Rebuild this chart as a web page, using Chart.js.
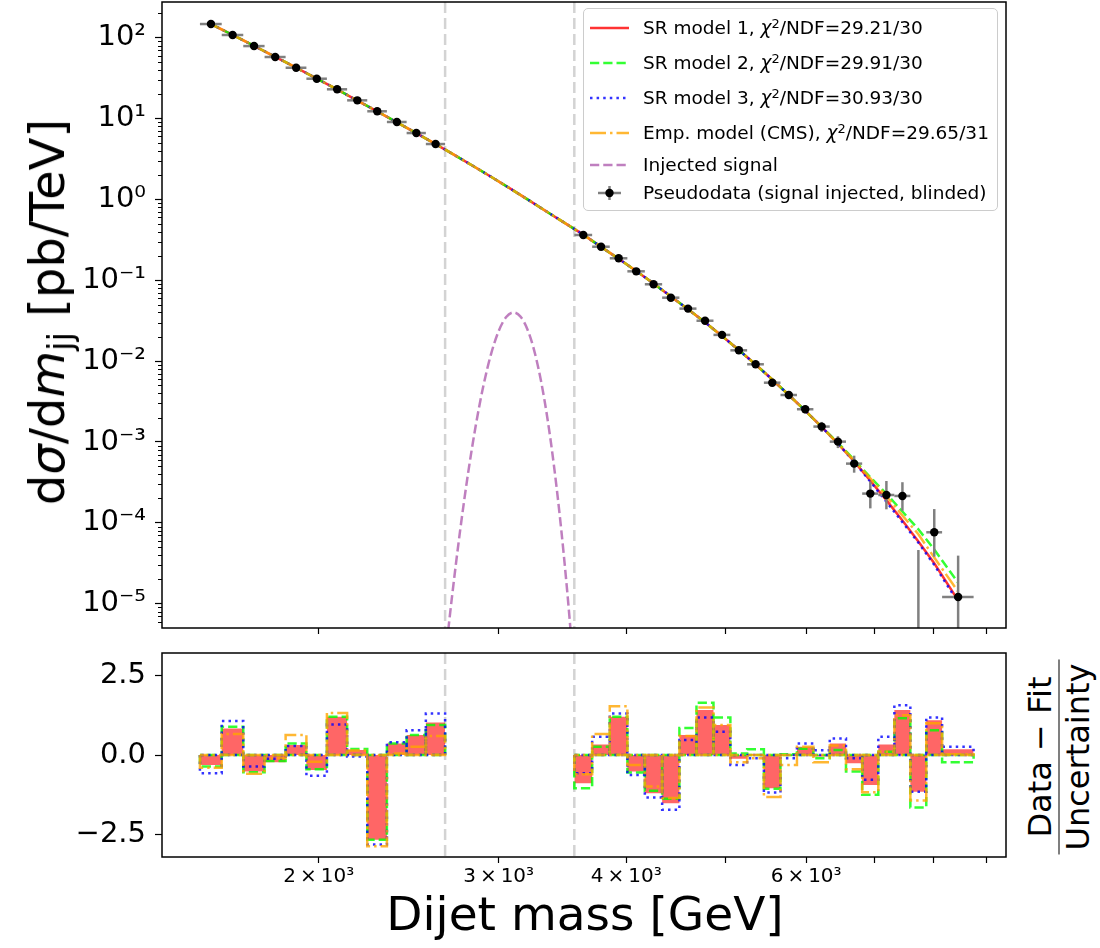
<!DOCTYPE html>
<html><head><meta charset="utf-8">
<script src="https://cdn.jsdelivr.net/npm/chart.js@4.4.1/dist/chart.umd.min.js"></script>
<style>
body{margin:0;background:#fff;}
#wrap{position:relative;width:1100px;height:948px;overflow:hidden;font-family:'DejaVu Sans',sans-serif;color:#000;background:#fff}
canvas{position:absolute;left:0}
#c1{top:0}
#c2{top:645px}
.lg{position:absolute;left:583px;top:8px;width:413px;height:201px;border:1.3px solid #cccccc;border-radius:5px;background:rgba(255,255,255,0.85);font-size:18.5px}
.row{position:absolute;left:0;height:24px;line-height:24px;white-space:nowrap}
.row svg{position:absolute;left:6px;top:2px}
.row span{position:absolute;left:59px;top:0}
.row sup{font-size:70%;vertical-align:0.45em;line-height:0}
.t{position:absolute;white-space:nowrap;transform:translate(-50%,-50%)}
</style></head>
<body><div id="wrap">
<canvas id="c1" width="1010" height="640"></canvas>
<canvas id="c2" width="1010" height="303"></canvas>

<div class="lg">
 <div class="row" style="top:7px"><svg width="40" height="20"><line x1="0" y1="10" x2="39" y2="10" stroke="rgba(255,0,0,0.8)" stroke-width="2.5"/></svg><span>SR model 1, <i>χ</i><sup>2</sup>/NDF=29.21/30</span></div>
 <div class="row" style="top:42px"><svg width="40" height="20"><line x1="0" y1="10" x2="39" y2="10" stroke="rgba(0,255,0,0.8)" stroke-width="2.5" stroke-dasharray="9.25 4"/></svg><span>SR model 2, <i>χ</i><sup>2</sup>/NDF=29.91/30</span></div>
 <div class="row" style="top:77px"><svg width="40" height="20"><line x1="0" y1="10" x2="39" y2="10" stroke="rgba(0,0,255,0.8)" stroke-width="2.5" stroke-dasharray="2.5 4.1"/></svg><span>SR model 3, <i>χ</i><sup>2</sup>/NDF=30.93/30</span></div>
 <div class="row" style="top:112px"><svg width="40" height="20"><line x1="0" y1="10" x2="39" y2="10" stroke="rgba(255,165,0,0.8)" stroke-width="2.5" stroke-dasharray="16 4 2.5 4"/></svg><span>Emp. model (CMS), <i>χ</i><sup>2</sup>/NDF=29.65/31</span></div>
 <div class="row" style="top:144px"><svg width="40" height="20"><line x1="0" y1="10" x2="39" y2="10" stroke="rgba(128,0,128,0.5)" stroke-width="2.5" stroke-dasharray="9.25 4"/></svg><span>Injected signal</span></div>
 <div class="row" style="top:172px"><svg width="40" height="20"><line x1="8" y1="10" x2="31" y2="10" stroke="#808080" stroke-width="2.5"/><line x1="19.5" y1="3" x2="19.5" y2="17" stroke="#808080" stroke-width="2.5"/><circle cx="19.5" cy="10" r="4.2" fill="#000"/></svg><span>Pseudodata (signal injected, blinded)</span></div>
</div>

<div class="t" style="left:47px;top:312px;transform:translate(-50%,-50%) rotate(-90deg);font-size:48px">d<i>σ</i>/d<i>m</i><sub style="font-size:70%;vertical-align:-0.25em;line-height:0">jj</sub> [pb/TeV]</div>
<div class="t" style="left:585px;top:913px;font-size:47px">Dijet mass [GeV]</div>
<div class="t" style="left:1059px;top:757px;transform:translate(-50%,-50%) rotate(-90deg);font-size:32px;text-align:center;line-height:37px">
  <div style="padding:0 4px">Data − Fit</div>
  <div style="border-top:1.6px solid #000;padding:0 4px">Uncertainty</div>
</div>
</div>

<script>
const FONT = "'DejaVu Sans', sans-serif";

// ---------- binning (GeV) ----------
const edgesLeft  = [1530,1607,1687,1770,1856,1945,2037,2132,2231,2332,2438,2546,2659];
const edgesBlind = [2659,2775,2895,3019,3147,3279,3416,3558];
const edgesRight = [3558,3704,3854,4010,4171,4337,4509,4686,4869,5058,5253,5455,5663,5877,6099,6328,6564,6808,7060,7320,7589,7866,8152,8752];
const blindEdges = [2659, 3558];

// ---------- pseudodata [pb/TeV] ----------
const dataLeft   = [147.6,108,78.8,57.7,42.5,31.1,23.0,16.8,12.3,9.07,6.62,4.84];
const errLeft    = [0.08,0.06,0.05,0.04,0.035,0.03,0.025,0.02,0.017,0.015,0.013,0.011];
const dataRight  = [0.363,0.260,0.187,0.129,0.0892,0.0609,0.0446,0.0316,0.0211,0.0136,0.00914,0.00541,0.00381,0.00254,0.00155,0.00101,0.00054,0.00023,0.000221,0.000215,0,7.64e-5,1.21e-5];
const errUpRight = [0.0036,0.0031,0.0026,0.0022,0.0018,0.0015,0.00125,0.00104,0.00084,0.00067,0.00055,0.00042,0.00034,0.00028,0.00022,0.00017,0.000137,0.000093,0.000108,0.000103,4.61e-5,7.16e-5,2.72e-5];
const errDnRight = [0.0036,0.0031,0.0026,0.0022,0.0018,0.0015,0.00125,0.00104,0.00084,0.00067,0.00055,0.00042,0.00034,0.00028,0.00022,0.00017,0.000123,0.000079,0.000074,0.000074,0,3.83e-5,1.21e-5];

// ---------- fit curves at bin centres (left, blinded, right) ----------
const model1 = [147.6,108.1,79.3,58.1,42.6,31.2,22.9,16.7,12.3,8.99,6.59,4.84, 3.53,2.57,1.866,1.349,0.973,0.700,0.506, 0.3664,0.2588,0.1841,0.1303,0.0912,0.0632,0.0438,0.0302,0.0204,0.01371,0.00908,0.00592,0.00381,0.00244,0.00154,0.000955,0.000575,0.000331,0.000191,0.000107,5.89e-5,3.16e-5,1.10e-5];
const model2 = [147.6,108.1,79.3,58.1,42.6,31.2,22.9,16.7,12.3,8.99,6.59,4.84, 3.53,2.57,1.866,1.349,0.973,0.700,0.506, 0.3664,0.2588,0.1841,0.1303,0.0912,0.0632,0.0438,0.0302,0.0204,0.01371,0.00908,0.00592,0.00381,0.00244,0.00154,0.000977,0.000603,0.000367,0.000229,0.000138,8.32e-5,4.68e-5,1.82e-5];
const model3 = [147.6,108.1,79.3,58.1,42.6,31.2,22.9,16.7,12.3,8.99,6.59,4.84, 3.53,2.57,1.866,1.349,0.973,0.700,0.506, 0.3664,0.2588,0.1841,0.1303,0.0912,0.0632,0.0438,0.0302,0.0204,0.01371,0.00908,0.00592,0.00381,0.00244,0.00154,0.000955,0.000569,0.000324,0.000182,0.000102,5.69e-5,3.02e-5,1.04e-5];
const model4 = [147.6,108.1,79.3,58.1,42.6,31.2,22.9,16.7,12.3,8.99,6.59,4.84, 3.53,2.57,1.866,1.349,0.973,0.700,0.506, 0.3664,0.2588,0.1841,0.1303,0.0912,0.0632,0.0438,0.0302,0.0204,0.01371,0.00908,0.00592,0.00381,0.00244,0.00154,0.000955,0.000589,0.000355,0.000214,0.000123,7.24e-5,3.72e-5,1.41e-5];

// ---------- injected signal ----------
const sigMass = [2660,2700,2750,2800,2850,2900,2950,3000,3050,3100,3150,3200,3250,3300,3350,3400,3450,3500,3550];
const sigVal  = [2.19e-6,1.19e-5,7.88e-5,4.06e-4,1.63e-3,5.10e-3,0.0124,0.0235,0.0348,0.0400,0.0358,0.0250,0.0136,5.75e-3,1.90e-3,4.86e-4,9.72e-5,1.51e-5,1.83e-6];

// ---------- pulls (Data - Fit)/Uncertainty ----------
const pull1L = [-0.31,0.83,-0.52,-0.23,0.31,-0.47,1.20,0.16,-2.66,0.36,0.63,1.02];
const pull2L = [-0.36,0.89,-0.54,-0.19,0.36,-0.45,1.20,0.19,-2.66,0.36,0.63,0.94];
const pull3L = [-0.57,1.07,-0.36,-0.12,0.28,-0.65,0.96,-0.05,-2.81,0.40,0.78,1.30];
const pull4L = [-0.40,0.66,-0.59,-0.10,0.63,-0.21,1.32,0.14,-2.86,0.05,0.26,0.60];
const pull1R = [-0.885,0.33,1.20,-0.52,-1.20,-1.51,0.63,1.41,0.94,-0.12,0.02,-1.04,-0.02,0.26,-0.05,0.36,-0.26,-0.94,0.33,1.41,-1.15,1.09,0.18];
const pull2R = [-1.04,0.26,1.20,-0.55,-1.12,-1.37,0.85,1.64,1.18,0.05,0.18,-1.06,0.02,0.20,-0.10,0.16,-0.52,-1.25,0.10,1.15,-1.65,0.78,-0.23];
const pull3R = [-0.57,0.57,1.30,-0.63,-1.33,-1.72,0.47,1.18,0.73,-0.31,-0.10,-1.18,-0.10,0.36,0.15,0.52,-0.10,-0.78,0.57,1.56,-1.15,1.18,0.26];
const pull4R = [-0.60,0.66,1.53,-0.31,-0.99,-1.35,0.60,1.49,0.94,-0.23,-0.10,-1.32,-0.31,0.26,-0.23,0.30,-0.45,-1.17,0.10,1.25,-1.43,1.00,0.02];

// ---------- ticks ----------
const xTickVals   = [2000,3000,4000,5000,6000,7000,8000,9000];
const xTickLabels = ['2\u2009×\u200910³','3\u2009×\u200910³','4\u2009×\u200910³','','6\u2009×\u200910³','','',''];
const yTickVals   = [1e-5,1e-4,1e-3,1e-2,1e-1,1,10,100];
const yTickLabels = ['10⁻⁵','10⁻⁴','10⁻³','10⁻²','10⁻¹','10⁰','10¹','10²'];
const pullTickVals   = [-2.5,0,2.5];
const pullTickLabels = ['−2.5','0.0','2.5'];

// ---------- axis ranges ----------
const X_MIN = 1404.6, X_MAX = 9415;
const Y_MIN = 5.004e-6, Y_MAX = 276.4;
const P_MIN = -3.2, P_MAX = 3.2;

// ---------- derived tables ----------
const centers = e => e.slice(0,-1).map((v,i)=>(v+e[i+1])/2);
const fitMass = [...centers(edgesLeft), ...centers(edgesBlind), ...centers(edgesRight)];
const dataPts = [];
centers(edgesLeft).forEach((c,i)=>dataPts.push({x:c, y:dataLeft[i], lo:edgesLeft[i], hi:edgesLeft[i+1], up:errLeft[i], dn:errLeft[i]}));
centers(edgesRight).forEach((c,i)=>dataPts.push({x:c, y:dataRight[i], lo:edgesRight[i], hi:edgesRight[i+1], up:errUpRight[i], dn:errDnRight[i]}));

const COL = {
  red:'rgba(255,0,0,0.8)', green:'rgba(0,255,0,0.8)', blue:'rgba(0,0,255,0.8)',
  orange:'rgba(255,165,0,0.8)', purple:'rgba(128,0,128,0.5)', gray:'#808080'
};
const DASH = {dashed:[9.25,4], dotted:[2.5,4.1], dashdot:[16,4,2.5,4]};

const curve = arr => fitMass.map((m,i)=>({x:m, y:arr[i]}));

// ---------- plugins ----------
const framePlugin = {
  id:'frame',
  afterDraw(chart){
    const {ctx, chartArea:a} = chart;
    ctx.save(); ctx.strokeStyle='#000'; ctx.lineWidth=1.5;
    ctx.strokeRect(a.left, a.top, a.right-a.left, a.bottom-a.top);
    ctx.restore();
  }
};
const vlinePlugin = {
  id:'vlines',
  beforeDatasetsDraw(chart){
    const {ctx, chartArea:a, scales:{x}} = chart;
    ctx.save(); ctx.strokeStyle='#d3d3d3'; ctx.lineWidth=2.5; ctx.setLineDash([11,5]);
    blindEdges.forEach(m=>{
      const px = x.getPixelForValue(m);
      ctx.beginPath(); ctx.moveTo(px, a.top); ctx.lineTo(px, a.bottom); ctx.stroke();
    });
    ctx.restore();
  }
};
const errPlugin = {
  id:'errbars',
  beforeDatasetDraw(chart, args){
    if (args.index !== 0) return;
    const {ctx, chartArea:a, scales:{x,y}} = chart;
    ctx.save();
    ctx.beginPath(); ctx.rect(a.left, a.top, a.right-a.left, a.bottom-a.top); ctx.clip();
    ctx.strokeStyle = COL.gray; ctx.lineWidth = 2.5;
    dataPts.forEach(p=>{
      const px = x.getPixelForValue(p.x);
      if (p.y > 0) {
        const py = y.getPixelForValue(p.y);
        ctx.beginPath(); ctx.moveTo(x.getPixelForValue(p.lo), py); ctx.lineTo(x.getPixelForValue(p.hi), py); ctx.stroke();
      }
      const top = y.getPixelForValue(p.y + p.up);
      const low = p.y - p.dn;
      const bot = low > 0 ? y.getPixelForValue(low) : a.bottom + 5;
      ctx.beginPath(); ctx.moveTo(px, top); ctx.lineTo(px, bot); ctx.stroke();
    });
    ctx.restore();
  }
};
const minorYPlugin = {
  id:'minorY',
  afterDraw(chart){
    const {ctx, chartArea:a, scales:{y}} = chart;
    ctx.save(); ctx.strokeStyle='#000'; ctx.lineWidth=1;
    for (let e=-6; e<=2; e++) for (let k=2; k<=9; k++) {
      const v = k*Math.pow(10,e);
      if (v <= Y_MIN || v >= Y_MAX) continue;
      const py = Math.round(y.getPixelForValue(v))+0.5;
      ctx.beginPath(); ctx.moveTo(a.left-4, py); ctx.lineTo(a.left, py); ctx.stroke();
    }
    ctx.restore();
  }
};

const xAxis = (showLabels, h) => ({
  type:'logarithmic', min:X_MIN, max:X_MAX,
  afterBuildTicks: s => { s.ticks = xTickVals.map(v=>({value:v})); },
  afterFit: s => { s.height = h; s.paddingLeft = 0; s.paddingRight = 0; },
  border:{display:false},
  grid:{drawOnChartArea:false, drawTicks:true, tickLength:6, tickColor:'#000', tickWidth:1.2},
  ticks:{display:showLabels, autoSkip:false, maxRotation:0, minRotation:0, padding:2, color:'#000',
    font:{family:FONT, size:20},
    callback:(v)=>{ const i = xTickVals.indexOf(v); return i>=0 ? xTickLabels[i] : ''; }}
});

// ---------- top panel ----------
new Chart(document.getElementById('c1'), {
  type:'scatter',
  data:{datasets:[
    {label:'Pseudodata', data:dataPts.map(p=>({x:p.x, y:p.y>0?p.y:null})), showLine:false,
     pointRadius:4.2, pointHoverRadius:4.2, pointBackgroundColor:'#000', pointBorderWidth:0, order:0},
    {label:'Emp', type:'line', data:curve(model4), borderColor:COL.orange, borderWidth:2.5, borderDash:DASH.dashdot, pointRadius:0, fill:false, order:1},
    {label:'SR3', type:'line', data:curve(model3), borderColor:COL.blue, borderWidth:2.5, borderDash:DASH.dotted, pointRadius:0, fill:false, order:2},
    {label:'SR2', type:'line', data:curve(model2), borderColor:COL.green, borderWidth:2.5, borderDash:DASH.dashed, pointRadius:0, fill:false, order:3},
    {label:'SR1', type:'line', data:curve(model1), borderColor:COL.red, borderWidth:2.5, pointRadius:0, fill:false, order:4},
    {label:'Signal', type:'line', data:sigMass.map((m,i)=>({x:m,y:sigVal[i]})), borderColor:COL.purple, borderWidth:2.5, borderDash:DASH.dashed, pointRadius:0, fill:false, cubicInterpolationMode:'monotone', order:5}
  ]},
  options:{
    responsive:false, animation:false, devicePixelRatio:1,
    layout:{autoPadding:false, padding:{top:2, right:4, left:0, bottom:0}},
    plugins:{legend:{display:false}, tooltip:{enabled:false}},
    scales:{
      x: xAxis(false, 12),
      y:{type:'logarithmic', min:Y_MIN, max:Y_MAX,
        afterBuildTicks: s => { s.ticks = yTickVals.map(v=>({value:v, major:true})); },
        afterFit: s => { s.width = 162; s.paddingTop = 0; s.paddingBottom = 0; },
        border:{display:false},
        grid:{drawOnChartArea:false, tickLength:7, tickColor:'#000', tickWidth:1.2},
        ticks:{color:'#000', padding:9, autoSkip:false, font:{family:FONT, size:29},
          callback:(v)=>{ const i = yTickVals.indexOf(v); return i>=0 ? yTickLabels[i] : ''; }}
      }
    }
  },
  plugins:[vlinePlugin, errPlugin, minorYPlugin, framePlugin]
});

// ---------- bottom panel ----------
function rects(edges, vals){
  const pts = [];
  vals.forEach((v,i)=>{ pts.push({x:edges[i],y:0},{x:edges[i],y:v},{x:edges[i+1],y:v},{x:edges[i+1],y:0}); });
  pts.push({x:edges[0], y:0});
  return pts;
}
function outline(valsL, valsR){
  return [...rects(edgesLeft, valsL), {x:3000, y:null}, ...rects(edgesRight, valsR)];
}
function steps(edges, vals){
  const pts = [{x:edges[0], y:0}];
  vals.forEach((v,i)=>{ pts.push({x:edges[i], y:v}, {x:edges[i+1], y:v}); });
  pts.push({x:edges[edges.length-1], y:0});
  return pts;
}
const fillDs = (edges, vals) => ({type:'line', data:steps(edges, vals), fill:'origin',
  backgroundColor:'rgba(255,0,0,0.6)', borderWidth:0, borderColor:'rgba(0,0,0,0)', pointRadius:0, order:4});
const lineDs = (pts, color, dash, order) => ({type:'line', data:pts, borderColor:color, borderWidth:2.5,
  borderDash:dash, pointRadius:0, fill:false, spanGaps:false, order});

new Chart(document.getElementById('c2'), {
  type:'scatter',
  data:{datasets:[
    lineDs(outline(pull4L, pull4R), COL.orange, DASH.dashdot, 0),
    lineDs(outline(pull3L, pull3R), COL.blue, DASH.dotted, 1),
    lineDs(outline(pull2L, pull2R), COL.green, DASH.dashed, 2),
    fillDs(edgesLeft, pull1L),
    fillDs(edgesRight, pull1R)
  ]},
  options:{
    responsive:false, animation:false, devicePixelRatio:1,
    layout:{autoPadding:false, padding:{top:8, right:4, left:0, bottom:0}},
    plugins:{legend:{display:false}, tooltip:{enabled:false}},
    scales:{
      x: xAxis(true, 91),
      y:{type:'linear', min:P_MIN, max:P_MAX,
        afterBuildTicks: s => { s.ticks = pullTickVals.map(v=>({value:v})); },
        afterFit: s => { s.width = 162; s.paddingTop = 0; s.paddingBottom = 0; },
        border:{display:false},
        grid:{drawOnChartArea:false, tickLength:7, tickColor:'#000', tickWidth:1.2},
        ticks:{color:'#000', padding:9, autoSkip:false, font:{family:FONT, size:29},
          callback:(v)=>{ const i = pullTickVals.indexOf(v); return i>=0 ? pullTickLabels[i] : ''; }}
      }
    }
  },
  plugins:[vlinePlugin, framePlugin]
});
</script>
</body></html>
